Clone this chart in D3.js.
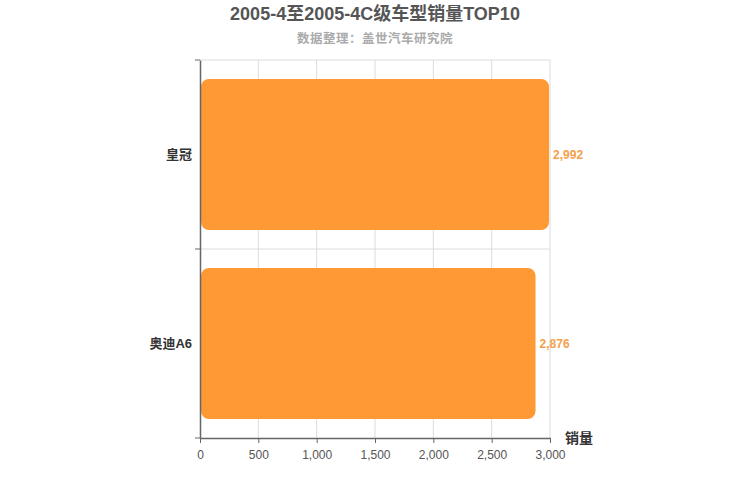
<!DOCTYPE html>
<html>
<head>
<meta charset="utf-8">
<script src="https://cdn.jsdelivr.net/npm/d3@7/dist/d3.min.js"></script>
<style>
  body { margin: 0; background: #fff; }
  svg { font-family: "Liberation Sans", "Noto Sans CJK SC", sans-serif; }
</style>
</head>
<body>
<svg id="canvas"></svg>
<script>
// data
let models = ['皇冠', '奥迪A6']
let sales = [2992, 2876]
let xTicks = [0, 500, 1000, 1500, 2000, 2500, 3000]

let width = 750
let height = 500
let plotLeft = 200
let plotRight = 550
let plotTop = 60
let plotBottom = 438

let canvas = d3.select('#canvas')
canvas.attr('width', width).attr('height', height)

let xScale = d3.scaleLinear().domain([0, 3000]).range([plotLeft, plotRight])
let yScale = d3.scaleBand().domain(models).range([plotTop, plotBottom]).paddingInner(0.2).paddingOuter(0.1)
let bandEdges = d3.scaleBand().domain(models).range([plotTop, plotBottom])

// grid
canvas.append('g').selectAll('line')
  .data(xTicks.slice(1))
  .enter().append('line')
  .attr('x1', d => xScale(d)).attr('x2', d => xScale(d))
  .attr('y1', plotTop).attr('y2', plotBottom)
  .attr('stroke', '#dcdcdc')

canvas.append('g').selectAll('line')
  .data(models)
  .enter().append('line')
  .attr('x1', plotLeft).attr('x2', plotRight)
  .attr('y1', d => bandEdges(d)).attr('y2', d => bandEdges(d))
  .attr('stroke', '#dcdcdc')

// bars
canvas.append('g').selectAll('rect')
  .data(models)
  .enter().append('rect')
  .attr('x', xScale(0) + 1)
  .attr('y', d => yScale(d))
  .attr('width', (d, i) => xScale(sales[i]) - xScale(0) - 1)
  .attr('height', yScale.bandwidth())
  .attr('rx', 8).attr('ry', 8)
  .attr('fill', '#ff9933')

// value labels
canvas.append('g').selectAll('text')
  .data(models)
  .enter().append('text')
  .attr('x', (d, i) => xScale(sales[i]) + 4)
  .attr('y', d => yScale(d) + yScale.bandwidth() / 2)
  .attr('dy', '0.35em')
  .attr('font-size', 12).attr('font-weight', 'bold')
  .attr('fill', '#f5a04a')
  .text((d, i) => d3.format(',')(sales[i]))

// axes
let xAxis = d3.axisBottom(xScale).tickValues(xTicks).tickFormat(d3.format(',')).tickSize(5).tickSizeOuter(0)
let gx = canvas.append('g').attr('transform', 'translate(0,' + plotBottom + ')').call(xAxis)
gx.select('.domain').attr('stroke', '#666').attr('stroke-width', 1.5)
gx.selectAll('.tick line').attr('stroke', '#666')
gx.selectAll('.tick text').attr('fill', '#555').attr('font-size', 12).attr('dy', '1.1em')
  .attr('font-family', '"Liberation Sans", Arial, sans-serif')

let yAxis = d3.axisLeft(bandEdges).tickSize(0).tickSizeOuter(0)
let gy = canvas.append('g').attr('transform', 'translate(' + plotLeft + ',0)').call(yAxis)
gy.select('.domain').attr('stroke', '#666').attr('stroke-width', 1.5)
gy.selectAll('.tick text')
  .attr('x', -8)
  .attr('fill', '#333').attr('font-size', 13).attr('font-weight', 'bold')
  .attr('font-family', '"Liberation Sans", "Noto Sans CJK SC", sans-serif')
// band-edge ticks on the y axis
gy.append('g').selectAll('line')
  .data(models.concat(['end']))
  .enter().append('line')
  .attr('x1', -5).attr('x2', 0)
  .attr('y1', (d, i) => i < models.length ? bandEdges(d) : plotBottom)
  .attr('y2', (d, i) => i < models.length ? bandEdges(d) : plotBottom)
  .attr('stroke', '#666')

// titles
canvas.append('text').attr('x', 375).attr('y', 20)
  .attr('text-anchor', 'middle').attr('font-size', 18).attr('font-weight', 'bold')
  .attr('fill', '#555').text('2005-4至2005-4C级车型销量TOP10')
canvas.append('text').attr('x', 375).attr('y', 43)
  .attr('text-anchor', 'middle').attr('font-size', 12.5).attr('font-weight', 'bold')
  .attr('letter-spacing', 0.5)
  .attr('fill', '#aaa').text('数据整理：盖世汽车研究院')
canvas.append('text').attr('x', 565).attr('y', 443)
  .attr('font-size', 14).attr('font-weight', 'bold')
  .attr('fill', '#333').text('销量')
</script>
</body>
</html>
